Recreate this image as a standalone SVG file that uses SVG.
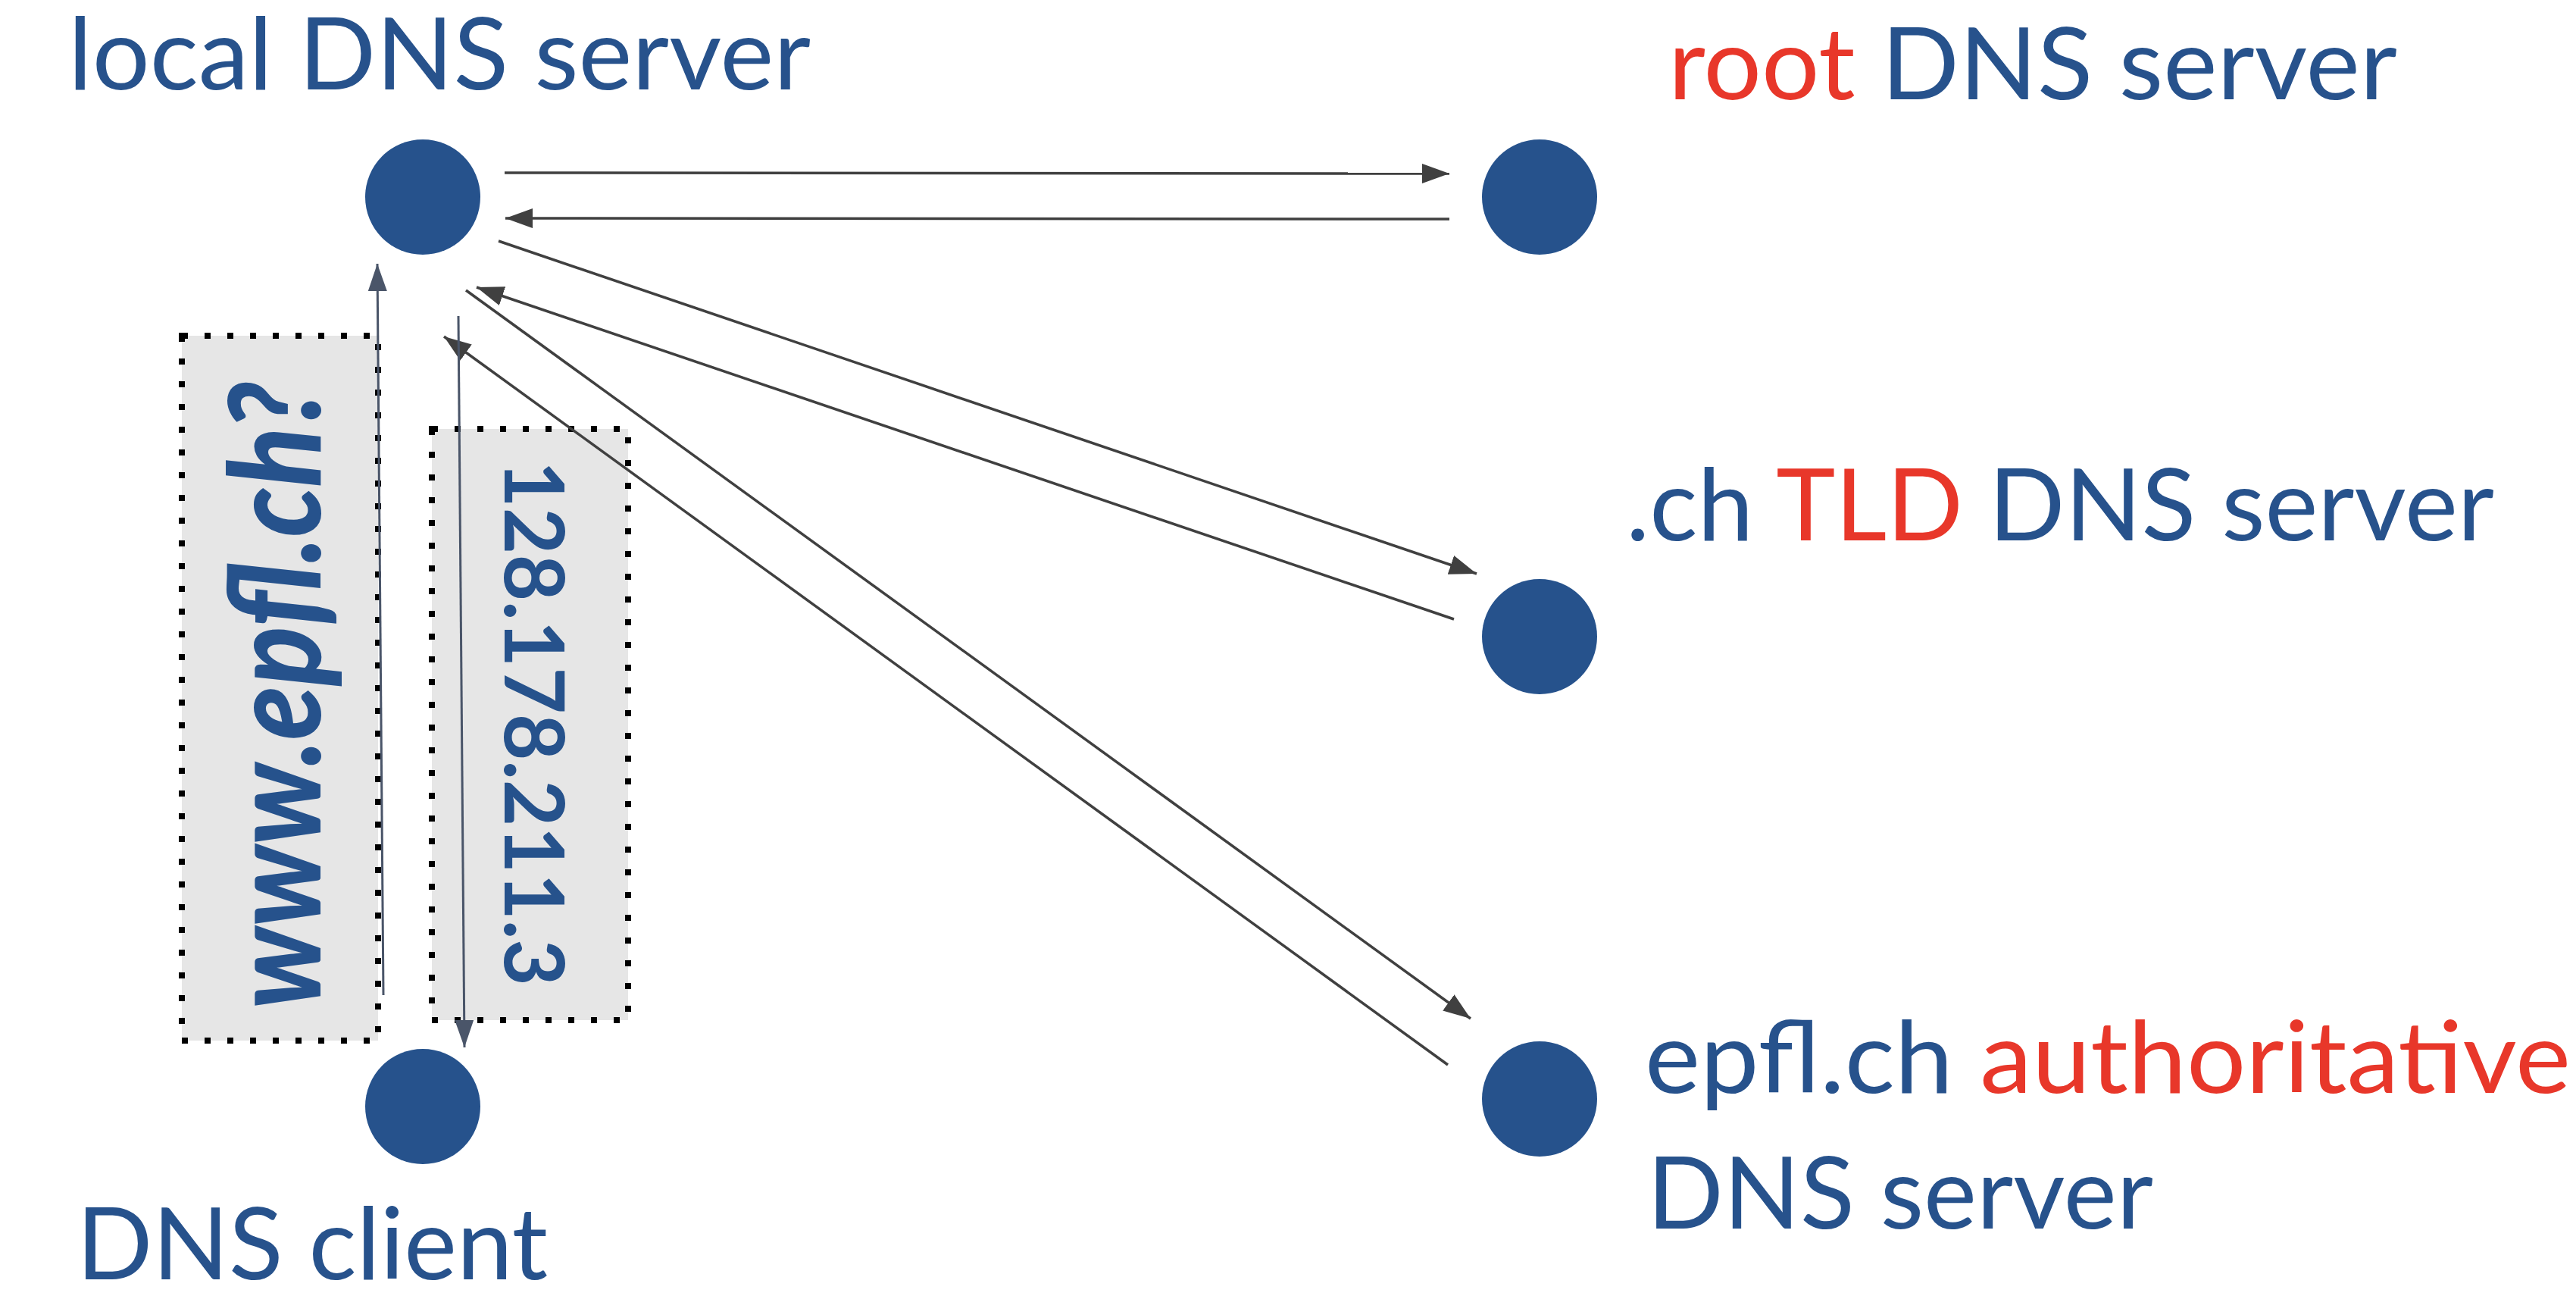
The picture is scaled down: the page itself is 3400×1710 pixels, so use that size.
<svg xmlns="http://www.w3.org/2000/svg" width="3400" height="1710" viewBox="0 0 3400 1710">
<style>
.lbl{font-family:Lato,"Open Sans","Liberation Sans",sans-serif;font-size:132px;fill:#27528c}
.red{fill:#e8372a}
.node{fill:#26528c}
.conn{stroke:#404040;stroke-width:3.5;fill:none;marker-end:url(#ah)}
.msg{stroke:#4a5569;stroke-width:3;fill:none;marker-end:url(#ah2)}
.box{fill:#e6e6e6;stroke:#000;stroke-width:8;stroke-dasharray:8 22}
.q{font-family:Lato,"DejaVu Sans",sans-serif;font-style:italic;font-weight:900;font-size:168px;fill:#26528c}
.a{font-family:Lato,"DejaVu Sans",sans-serif;font-weight:bold;font-size:110px;fill:#26528c}
</style>
<defs>
<marker id="ah" markerUnits="userSpaceOnUse" markerWidth="40" markerHeight="30" refX="36" refY="13" orient="auto"><path d="M0,0 L36,13 L0,26 Z" fill="#404040"/></marker>
<marker id="ah2" markerUnits="userSpaceOnUse" markerWidth="40" markerHeight="30" refX="36" refY="12.5" orient="auto"><path d="M0,0 L36,12.5 L0,25 Z" fill="#4a5569"/></marker>
</defs>
<rect width="3400" height="1710" fill="#fff"/>

<g id="local-dns">
<circle class="node" cx="558" cy="260" r="76"/>
<text class="lbl" x="90" y="118" textLength="980" lengthAdjust="spacingAndGlyphs">local DNS server</text>
</g>
<g id="root-dns">
<circle class="node" cx="2032" cy="260" r="76"/>
<text class="lbl" x="2202" y="131" textLength="962" lengthAdjust="spacingAndGlyphs"><tspan class="red">root</tspan> DNS server</text>
</g>
<g id="tld-dns">
<circle class="node" cx="2032" cy="840" r="76"/>
<text class="lbl" x="2146" y="713" textLength="1146" lengthAdjust="spacingAndGlyphs">.ch <tspan class="red">TLD</tspan> DNS server</text>
</g>
<g id="auth-dns">
<circle class="node" cx="2032" cy="1450" r="76"/>
<text class="lbl" x="2171" y="1442" textLength="1222" lengthAdjust="spacingAndGlyphs">epfl.ch <tspan class="red">authoritative</tspan></text>
<text class="lbl" x="2174" y="1621" textLength="668" lengthAdjust="spacingAndGlyphs">DNS server</text>
</g>
<g id="dns-client">
<circle class="node" cx="558" cy="1460" r="76"/>
<text class="lbl" x="101" y="1688" textLength="622" lengthAdjust="spacingAndGlyphs">DNS client</text>
</g>
<g id="query-box">
<rect class="box" x="240" y="443" width="259" height="930"/>
<text class="q" transform="translate(423,1331) rotate(-90)" textLength="827" lengthAdjust="spacingAndGlyphs">www.epfl.ch?</text>
</g>
<g id="answer-box">
<rect class="box" x="570" y="566" width="259" height="780"/>
<text class="a" transform="translate(666,608) rotate(90)" textLength="693" lengthAdjust="spacingAndGlyphs">128.178.211.3</text>
</g>

<g id="connectors">
<line class="conn" x1="666" y1="228" x2="1913" y2="229"/>
<line class="conn" x1="1913" y1="289" x2="667" y2="288"/>
<line class="conn" x1="658" y1="318" x2="1949" y2="757"/>
<line class="conn" x1="1919" y1="817" x2="629" y2="379"/>
<line class="conn" x1="615" y1="383" x2="1941" y2="1344"/>
<line class="conn" x1="1911" y1="1405" x2="586" y2="444"/>
<line class="msg" x1="506" y1="1313" x2="498" y2="348"/>
<line class="msg" x1="605" y1="417" x2="613" y2="1382"/>
</g>
</svg>
